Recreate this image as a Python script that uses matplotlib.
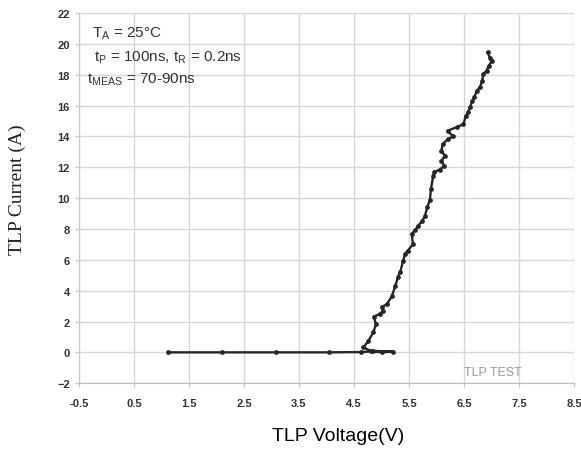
import matplotlib
matplotlib.use('Agg')
import matplotlib.pyplot as plt
import numpy as np

# TLP I-V curve
voltage = [1.12, 2.10, 3.08, 4.05, 4.62, 4.85, 5.00, 5.21, 4.80, 4.67,
           4.76, 4.85, 4.90, 4.86, 4.97, 5.03, 5.00, 5.10, 5.19, 5.25,
           5.30, 5.34, 5.39, 5.43, 5.48, 5.57, 5.55, 5.61, 5.66, 5.74,
           5.79, 5.83, 5.88, 5.90, 5.94, 5.96, 6.06, 6.14, 6.09, 6.15,
           6.09, 6.11, 6.21, 6.30, 6.20, 6.37, 6.49, 6.53, 6.58, 6.61,
           6.65, 6.69, 6.73, 6.79, 6.83, 6.85, 6.91, 6.95, 7.01, 6.97,
           6.93]
current = [0.0, 0.0, 0.0, 0.0, 0.02, 0.06, 0.0, 0.05, 0.1, 0.32,
           0.73, 1.30, 1.83, 2.30, 2.50, 2.70, 2.93, 3.13, 3.65, 4.30,
           4.90, 5.20, 5.90, 6.40, 6.60, 7.00, 7.70, 7.90, 8.20, 8.50,
           8.85, 9.40, 9.90, 10.60, 11.45, 11.70, 11.85, 12.10, 12.40, 12.75,
           13.07, 13.50, 13.83, 14.00, 14.37, 14.60, 14.80, 15.30, 15.60, 15.90,
           16.30, 16.53, 16.96, 17.18, 17.60, 18.04, 18.26, 18.58, 18.90, 19.10,
           19.45]

x_ticks = [-0.5, 0.5, 1.5, 2.5, 3.5, 4.5, 5.5, 6.5, 7.5, 8.5]
y_ticks = [-2, 0, 2, 4, 6, 8, 10, 12, 14, 16, 18, 20, 22]

plt.rcParams['mathtext.fontset'] = 'custom'
plt.rcParams['mathtext.rm'] = 'Liberation Sans'

fig = plt.figure(figsize=(5.81, 4.52), dpi=100)
ax = fig.add_axes([0.136, 0.150, 0.852, 0.819])

ax.plot(voltage, current, color='#262626', linewidth=1.7,
        marker='o', markersize=2.4, zorder=3)

ax.set_xlim(-0.5, 8.5)
ax.set_ylim(-2, 22)
ax.set_xticks(x_ticks)
ax.set_yticks(y_ticks)
ax.set_xticklabels([f"{v:g}" for v in x_ticks])
ax.grid(True, color='#d6d6d6', linewidth=1.0)
ax.set_axisbelow(True)

for side in ['top', 'right']:
    ax.spines[side].set_visible(False)
ax.spines['left'].set_color('#c8c8c8')
ax.spines['bottom'].set_color('#bdbdbd')
ax.tick_params(axis='both', colors='#c8c8c8', length=3, width=1,
               labelcolor='#333333', labelsize=8)
for lab in ax.get_xticklabels() + ax.get_yticklabels():
    lab.set_fontweight('bold')
    lab.set_family('Liberation Sans')
ax.tick_params(axis='x', pad=8)

# annotations
ax.text(-0.27, 20.5, r"T$_{\mathregular{A}}$ = 25°C", fontsize=11,
        color='#333333', family='Liberation Sans')
ax.text(-0.22, 18.95, r"t$_{\mathregular{P}}$ = 100ns, t$_{\mathregular{R}}$ = 0.2ns",
        fontsize=11, color='#333333', family='Liberation Sans')
ax.text(-0.35, 17.5, r"t$_{\mathregular{MEAS}}$ = 70-90ns", fontsize=11,
        color='#333333', family='Liberation Sans')
ax.text(6.5, -1.45, "TLP TEST", fontsize=9, color='#9a9a9a',
        family='Liberation Sans')

fig.text(0.582, 0.035, "TLP Voltage(V)", fontsize=14, ha='center', va='center',
         family='Liberation Sans', color='black')
fig.text(0.030, 0.58, "TLP Current (A)", fontsize=14, rotation=90,
         ha='center', va='center', family='Liberation Serif', color='#222222')

fig.savefig('out.png', dpi=100, facecolor='white')
